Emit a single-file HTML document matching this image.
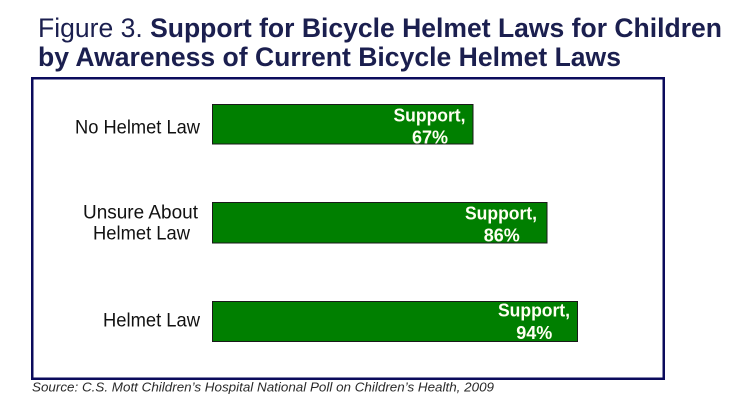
<!DOCTYPE html>
<html>
<head>
<meta charset="utf-8">
<style>
  html, body { margin: 0; padding: 0; background: #ffffff; }
  svg { display: block; }
</style>
</head>
<body>
<svg width="736" height="406" viewBox="0 0 736 406" xmlns="http://www.w3.org/2000/svg">
  <rect x="0" y="0" width="736" height="406" fill="#ffffff"/>

  <!-- Title -->
  <text x="38" y="37" font-family="Liberation Sans, Arial, sans-serif" font-size="27" fill="#1b1f4f" textLength="684" lengthAdjust="spacingAndGlyphs">Figure 3. <tspan font-weight="bold">Support for Bicycle Helmet Laws for Children</tspan></text>
  <text x="38" y="66" font-family="Liberation Sans, Arial, sans-serif" font-size="27" font-weight="bold" fill="#1b1f4f" textLength="583" lengthAdjust="spacingAndGlyphs">by Awareness of Current Bicycle Helmet Laws</text>

  <!-- Chart frame -->
  <rect x="32.25" y="78.25" width="631.5" height="300.5" fill="#ffffff" stroke="#0b0b5c" stroke-width="2.5"/>

  <!-- Category labels -->
  <g font-family="Liberation Sans, Arial, sans-serif" font-size="19.5" fill="#111111">
    <text x="75" y="133.3" textLength="125" lengthAdjust="spacingAndGlyphs">No Helmet Law</text>
    <text x="83" y="218.5" textLength="115" lengthAdjust="spacingAndGlyphs">Unsure About</text>
    <text x="93" y="239.5" textLength="97" lengthAdjust="spacingAndGlyphs">Helmet Law</text>
    <text x="103" y="326.7" textLength="97" lengthAdjust="spacingAndGlyphs">Helmet Law</text>
  </g>

  <!-- Bars -->
  <g fill="#007f00" stroke="#1a1a1a" stroke-width="1">
    <rect x="212.5" y="104.5" width="260.5" height="39.5"/>
    <rect x="212.5" y="202.5" width="334.5" height="40.5"/>
    <rect x="212.5" y="301.5" width="365" height="40"/>
  </g>

  <!-- Bar labels -->
  <g font-family="Liberation Sans, Arial, sans-serif" font-size="18.5" font-weight="bold" fill="#fffff2" text-anchor="middle">
    <text x="429.5" y="121.7" textLength="72" lengthAdjust="spacingAndGlyphs">Support,</text>
    <text x="430" y="143.3" textLength="36" lengthAdjust="spacingAndGlyphs">67%</text>
    <text x="501" y="219.3" textLength="72" lengthAdjust="spacingAndGlyphs">Support,</text>
    <text x="501.7" y="241.7" textLength="36" lengthAdjust="spacingAndGlyphs">86%</text>
    <text x="534" y="316.7" textLength="72" lengthAdjust="spacingAndGlyphs">Support,</text>
    <text x="534.3" y="339" textLength="36" lengthAdjust="spacingAndGlyphs">94%</text>
  </g>

  <!-- Source -->
  <text x="32" y="391.7" font-family="Liberation Sans, Arial, sans-serif" font-size="13" font-style="italic" fill="#2a2a2a" textLength="462" lengthAdjust="spacingAndGlyphs">Source: C.S. Mott Children’s Hospital National Poll on Children’s Health, 2009</text>
</svg>
</body>
</html>
